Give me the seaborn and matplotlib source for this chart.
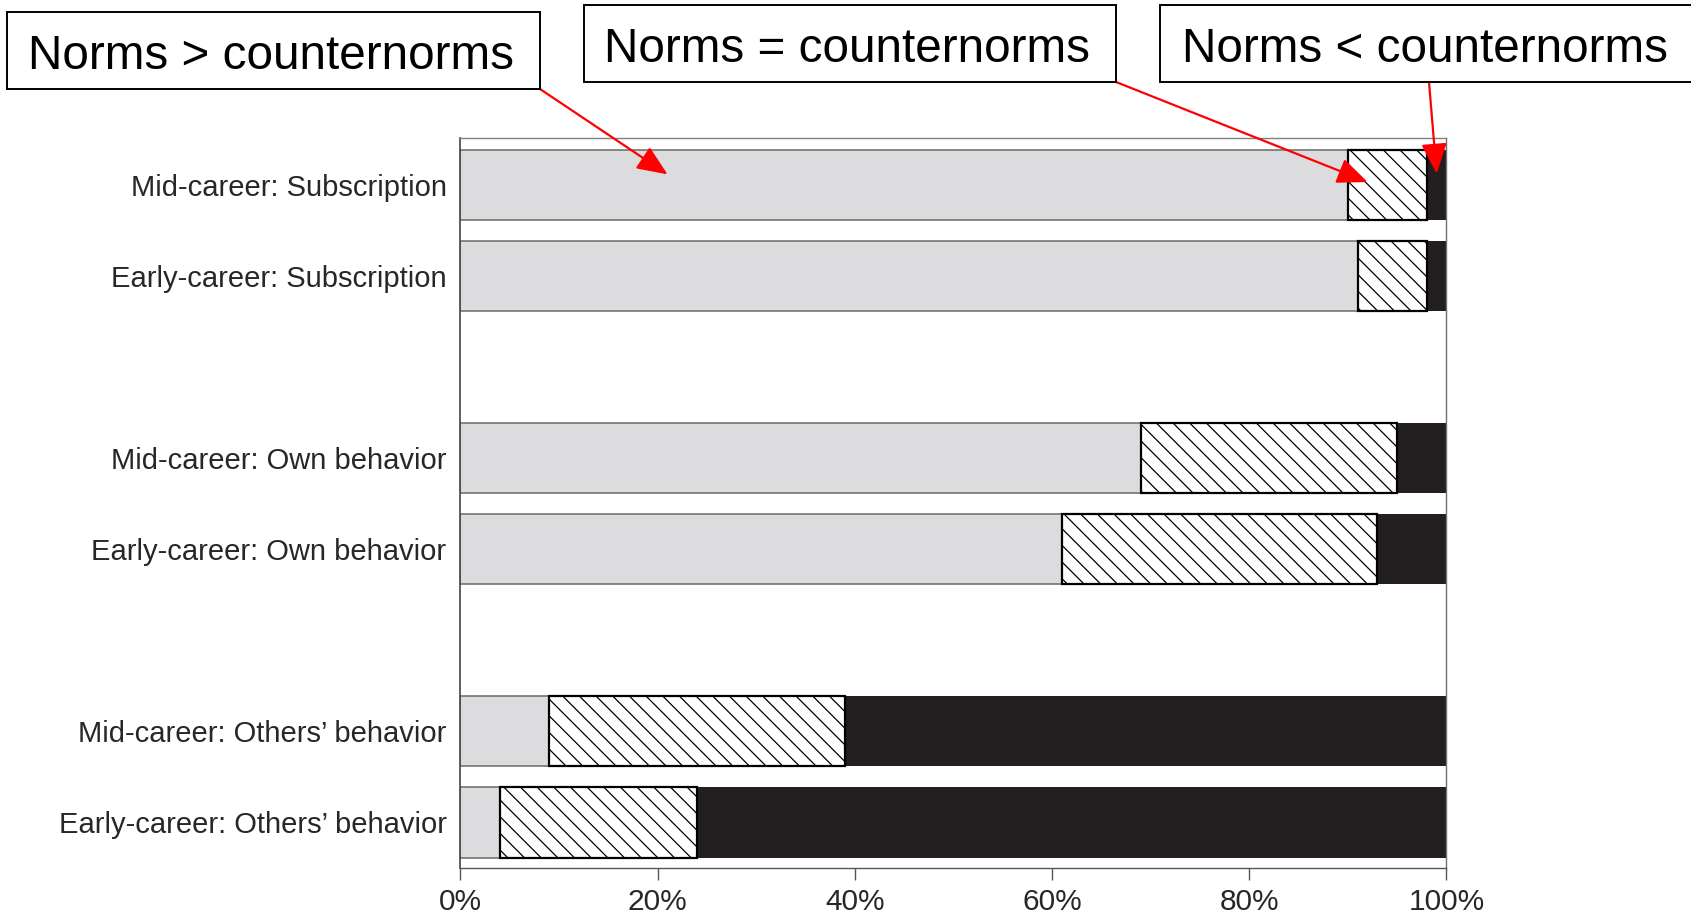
import numpy as np
import pandas as pd
import matplotlib
matplotlib.use("Agg")
import matplotlib.pyplot as plt
from matplotlib.patches import Rectangle
import seaborn as sns

# ---- data ----
categories = [
    "Mid-career: Subscription",
    "Early-career: Subscription",
    "Mid-career: Own behavior",
    "Early-career: Own behavior",
    "Mid-career: Others\u2019 behavior",
    "Early-career: Others\u2019 behavior",
]
norms_gt = [90, 91, 69, 61, 9, 4]     # Norms > counternorms
norms_eq = [8, 7, 26, 32, 30, 20]     # Norms = counternorms
norms_lt = [2, 2, 5, 7, 61, 76]       # Norms < counternorms
x_ticks = [0, 20, 40, 60, 80, 100]
x_tick_labels = ["0%", "20%", "40%", "60%", "80%", "100%"]
legend_labels = ["Norms > counternorms", "Norms = counternorms", "Norms < counternorms"]

# ---- style ----
sns.set_theme(style="white")
plt.rcParams["font.family"] = ["Liberation Sans", "DejaVu Sans"]
plt.rcParams["hatch.linewidth"] = 0.9

W, H = 1691, 915
fig = plt.figure(figsize=(W / 100, H / 100), dpi=100)
ax = fig.add_axes([460.5 / W, 1 - 868 / H, (1446.5 - 460.5) / W, (868 - 137.7) / H])

# positions: pairs of bars separated by an empty slot
pos = [(i // 2) * 3 + (i % 2) for i in range(len(categories))]
df = pd.DataFrame({
    "pos": pos,
    "gt": norms_gt,
    "eq": norms_eq,
    "lt": norms_lt,
})
left_eq = np.array(norms_gt, dtype=float)
left_lt = np.array(norms_gt, dtype=float) + np.array(norms_eq, dtype=float)

grey = "#dcdcde"
dark = "#231f20"
bw = 0.77

sns.barplot(data=df, x="gt", y="pos", orient="y", native_scale=True, width=bw,
            errorbar=None, color=grey, saturation=1, facecolor=grey,
            edgecolor="#6a6a6a", linewidth=1.1, ax=ax)
sns.barplot(data=df, x="lt", y="pos", orient="y", native_scale=True, width=bw,
            errorbar=None, color=dark, saturation=1, left=left_lt,
            facecolor=dark, edgecolor=dark, linewidth=0, ax=ax)
sns.barplot(data=df, x="eq", y="pos", orient="y", native_scale=True, width=bw,
            errorbar=None, color="white", saturation=1, left=left_eq,
            facecolor="white", edgecolor="black",
            hatch="\\\\", linewidth=1.6, ax=ax)

ax.set_xlim(0, 100)
ax.set_ylim(7.5, -0.52)
ax.set_xticks(x_ticks)
ax.set_xticklabels(x_tick_labels)
ax.set_yticks(pos)
ax.set_yticklabels(categories)
ax.set_xlabel("")
ax.set_ylabel("")
ax.tick_params(axis="y", length=0, pad=10, labelsize=21, labelcolor="#2a2626")
ax.tick_params(axis="x", direction="out", length=8.6, width=1.0, color="#555555",
               pad=6, labelsize=21.5, labelcolor="#2a2626", bottom=True)
for side, col, lw in [("left", "#444444", 1.2), ("top", "#808080", 1.0),
                      ("right", "#707070", 1.0), ("bottom", "#555555", 1.0)]:
    ax.spines[side].set_visible(True)
    ax.spines[side].set_color(col)
    ax.spines[side].set_linewidth(lw)

# ---- annotation boxes (figure pixel geometry) ----
boxes = [
    (7, 12, 540, 89, 271, 69),
    (584, 4.7, 1116, 82, 847.5, 61.7),
    (1160, 4.7, 1700, 82, 1424.5, 61.7),
]
for (x0, y0, x1, y1, tx, ty), lab in zip(boxes, legend_labels):
    rect = Rectangle((x0 / W, 1 - y1 / H), (x1 - x0) / W, (y1 - y0) / H,
                     transform=fig.transFigure, facecolor="white",
                     edgecolor="black", linewidth=1.4, zorder=5)
    fig.add_artist(rect)
    fig.text(tx / W, 1 - ty / H, lab, ha="center", va="baseline",
             fontsize=34.3, color="black", zorder=6)

# ---- red arrows ----
arrows = [
    ((540, 89), (21.0, -0.117)),
    ((1116, 82), (92.0, -0.033)),
    ((1429, 82), (99.0, -0.125)),
]
for (sx, sy), (dx, dy) in arrows:
    ax.annotate("", xy=(dx, dy), xycoords="data",
                xytext=(sx / W, 1 - sy / H), textcoords="figure fraction",
                arrowprops=dict(arrowstyle="-|>,head_length=0.85,head_width=0.36",
                                color="#ff0000", lw=1.6, mutation_scale=22,
                                shrinkA=0, shrinkB=0),
                annotation_clip=False, zorder=7)

fig.savefig("out.png", dpi=100)
